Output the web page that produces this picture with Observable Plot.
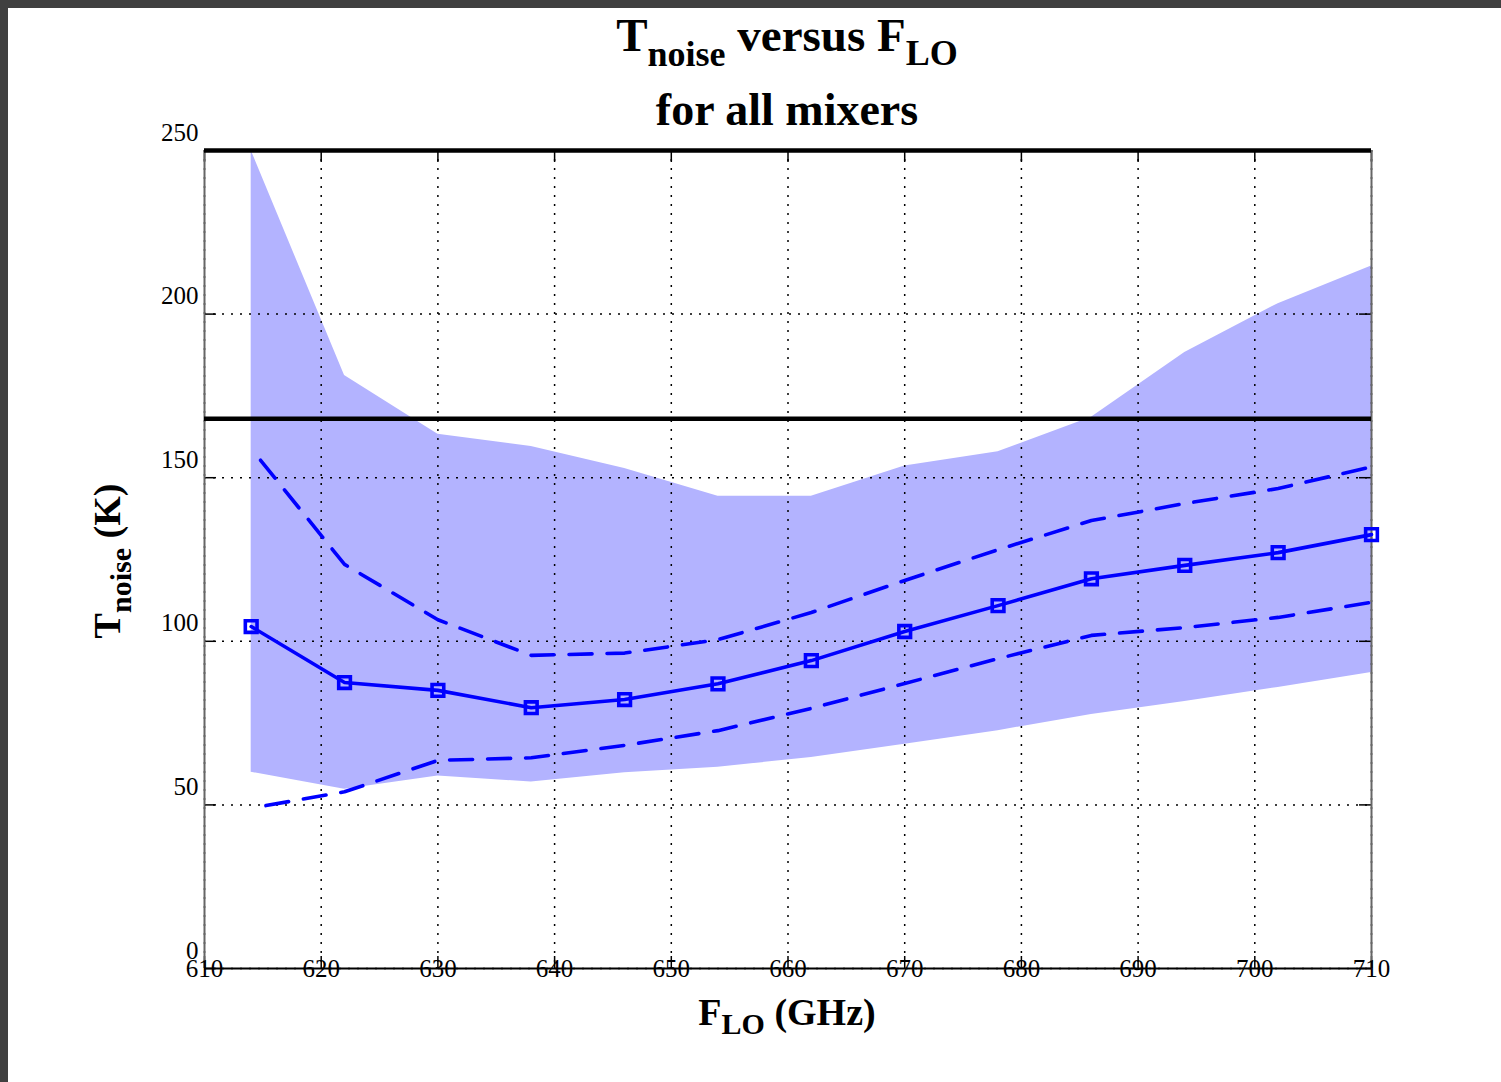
<!DOCTYPE html>
<html><head><meta charset="utf-8">
<script src="https://cdn.jsdelivr.net/npm/d3@7"></script>
<script src="https://cdn.jsdelivr.net/npm/@observablehq/plot@0.6"></script>
<style>
html,body{margin:0;padding:0;background:#404040;width:1501px;height:1082px;overflow:hidden}
#page{position:absolute;left:8px;top:8px;width:1493px;height:1074px;background:#fff}
#chart{position:absolute;left:0;top:0}
</style></head><body>
<div id="page"></div><div id="chart"></div>
<script>
// ---- data ----
const freq   = [614, 622, 630, 638, 646, 654, 662, 670, 678, 686, 694, 702, 710];
const meanT  = [104.5, 87.4, 85.0, 79.7, 82.2, 87.0, 94.1, 103.0, 110.9, 119.1, 123.2, 127.1, 132.6];
const upperT = [158.9, 123.5, 106.6, 95.7, 96.4, 100.5, 108.8, 118.6, 128.0, 136.9, 142.1, 146.7, 153.3];
const lowerT = [49.0, 54.0, 63.6, 64.4, 68.2, 72.7, 79.5, 87.1, 94.7, 101.8, 104.2, 107.3, 111.9];
const maxT   = [250, 181.2, 163.3, 159.5, 152.8, 144.3, 144.3, 153.6, 157.9, 168.5, 188.3, 203.2, 214.7];
const minT   = [60.0, 54.8, 58.8, 57.0, 59.8, 61.5, 64.5, 68.5, 72.7, 77.6, 81.6, 85.9, 90.5];
const specLine = [168];
const topLine  = [250];
const xTicks = [610, 620, 630, 640, 650, 660, 670, 680, 690, 700, 710];
const yTicks = [0, 50, 100, 150, 200, 250];

const rows = freq.map((f, i) => ({f, mean: meanT[i], up: upperT[i], lo: lowerT[i], max: maxT[i], min: minT[i]}));

const serif = "'Liberation Serif', 'Times New Roman', serif";
const blue = "#0000ff";

const svg = Plot.plot({
  width: 1501, height: 1082,
  marginLeft: 204, marginRight: 130, marginTop: 150, marginBottom: 114,
  style: {background: "transparent", fontFamily: serif},
  x: {domain: [610, 710], axis: null},
  y: {domain: [0, 250], axis: null},
  marks: [
    Plot.areaY(rows, {x: "f", y1: "min", y2: "max", fill: "#b3b3ff", clip: true}),
    Plot.ruleX(xTicks, {stroke: "black", strokeWidth: 1.5, strokeDasharray: "2,7"}),
    Plot.ruleY(yTicks, {stroke: "black", strokeWidth: 1.5, strokeDasharray: "2,7"}),
    // inside ticks on all four sides
    Plot.tickX(xTicks, {x: d => d, stroke: "black", strokeWidth: 1.5, insetTop: 806}),
    Plot.tickX(xTicks, {x: d => d, stroke: "black", strokeWidth: 1.5, insetBottom: 806}),
    Plot.tickY(yTicks, {y: d => d, stroke: "black", strokeWidth: 1.5, insetRight: 1155}),
    Plot.tickY(yTicks, {y: d => d, stroke: "black", strokeWidth: 1.5, insetLeft: 1155}),
    // frame
    Plot.ruleX([610], {stroke: "#666", strokeWidth: 2}),
    Plot.ruleX([710], {stroke: "#666", strokeWidth: 2}),
    Plot.ruleY([0], {stroke: "black", strokeWidth: 2}),
    Plot.ruleY(topLine, {stroke: "black", strokeWidth: 4.5}),
    Plot.ruleY(specLine, {stroke: "black", strokeWidth: 4.5}),
    // dashed envelope
    Plot.lineY(rows, {x: "f", y: "up", stroke: blue, strokeWidth: 3.6, strokeDasharray: "23,15", strokeDashoffset: 23}),
    Plot.lineY(rows, {x: "f", y: "lo", stroke: blue, strokeWidth: 3.6, strokeDasharray: "23,15", strokeDashoffset: 23}),
    // mean
    Plot.lineY(rows, {x: "f", y: "mean", stroke: blue, strokeWidth: 3.6}),
    Plot.dot(rows, {x: "f", y: "mean", symbol: "square", r: 6.6, stroke: blue, strokeWidth: 3.6, fill: "none"}),
    // tick labels
    Plot.text(xTicks, {x: d => d, frameAnchor: "bottom", lineAnchor: "middle", fontSize: 25, fill: "black"}),
    Plot.text(yTicks, {y: d => d, frameAnchor: "left", textAnchor: "end", lineAnchor: "middle", dx: -6, dy: -18, fontSize: 25, fill: "black"})
  ]
});

function rich(parent, attrs, parts) {
  const t = parent.append("text").attr("font-family", serif).attr("font-weight", "bold").attr("fill", "black").attr("text-anchor", "middle");
  for (const [k, v] of Object.entries(attrs)) t.attr(k, v);
  let cur = 0;
  for (const p of parts) {
    const s = t.append("tspan").attr("font-size", p.size).text(p.t);
    const target = p.shift || 0;
    if (target !== cur) { s.attr("dy", target - cur); cur = target; }
  }
  return t;
}
const g = d3.select(svg);
rich(g, {x: 787, y: 51}, [
  {t: "T", size: 47}, {t: "noise", size: 36, shift: 15}, {t: " versus F", size: 47}, {t: "LO", size: 36, shift: 14}
]);
rich(g, {x: 787, y: 125}, [{t: "for all mixers", size: 46}]);
rich(g, {x: 787, y: 1025}, [
  {t: "F", size: 38}, {t: "LO", size: 30, shift: 9}, {t: " (GHz)", size: 38}
]);
rich(g, {transform: "translate(120,561) rotate(-90)"}, [
  {t: "T", size: 38}, {t: "noise", size: 30, shift: 11}, {t: " (K)", size: 38}
]);

document.getElementById("chart").appendChild(svg);
</script>
</body></html>
